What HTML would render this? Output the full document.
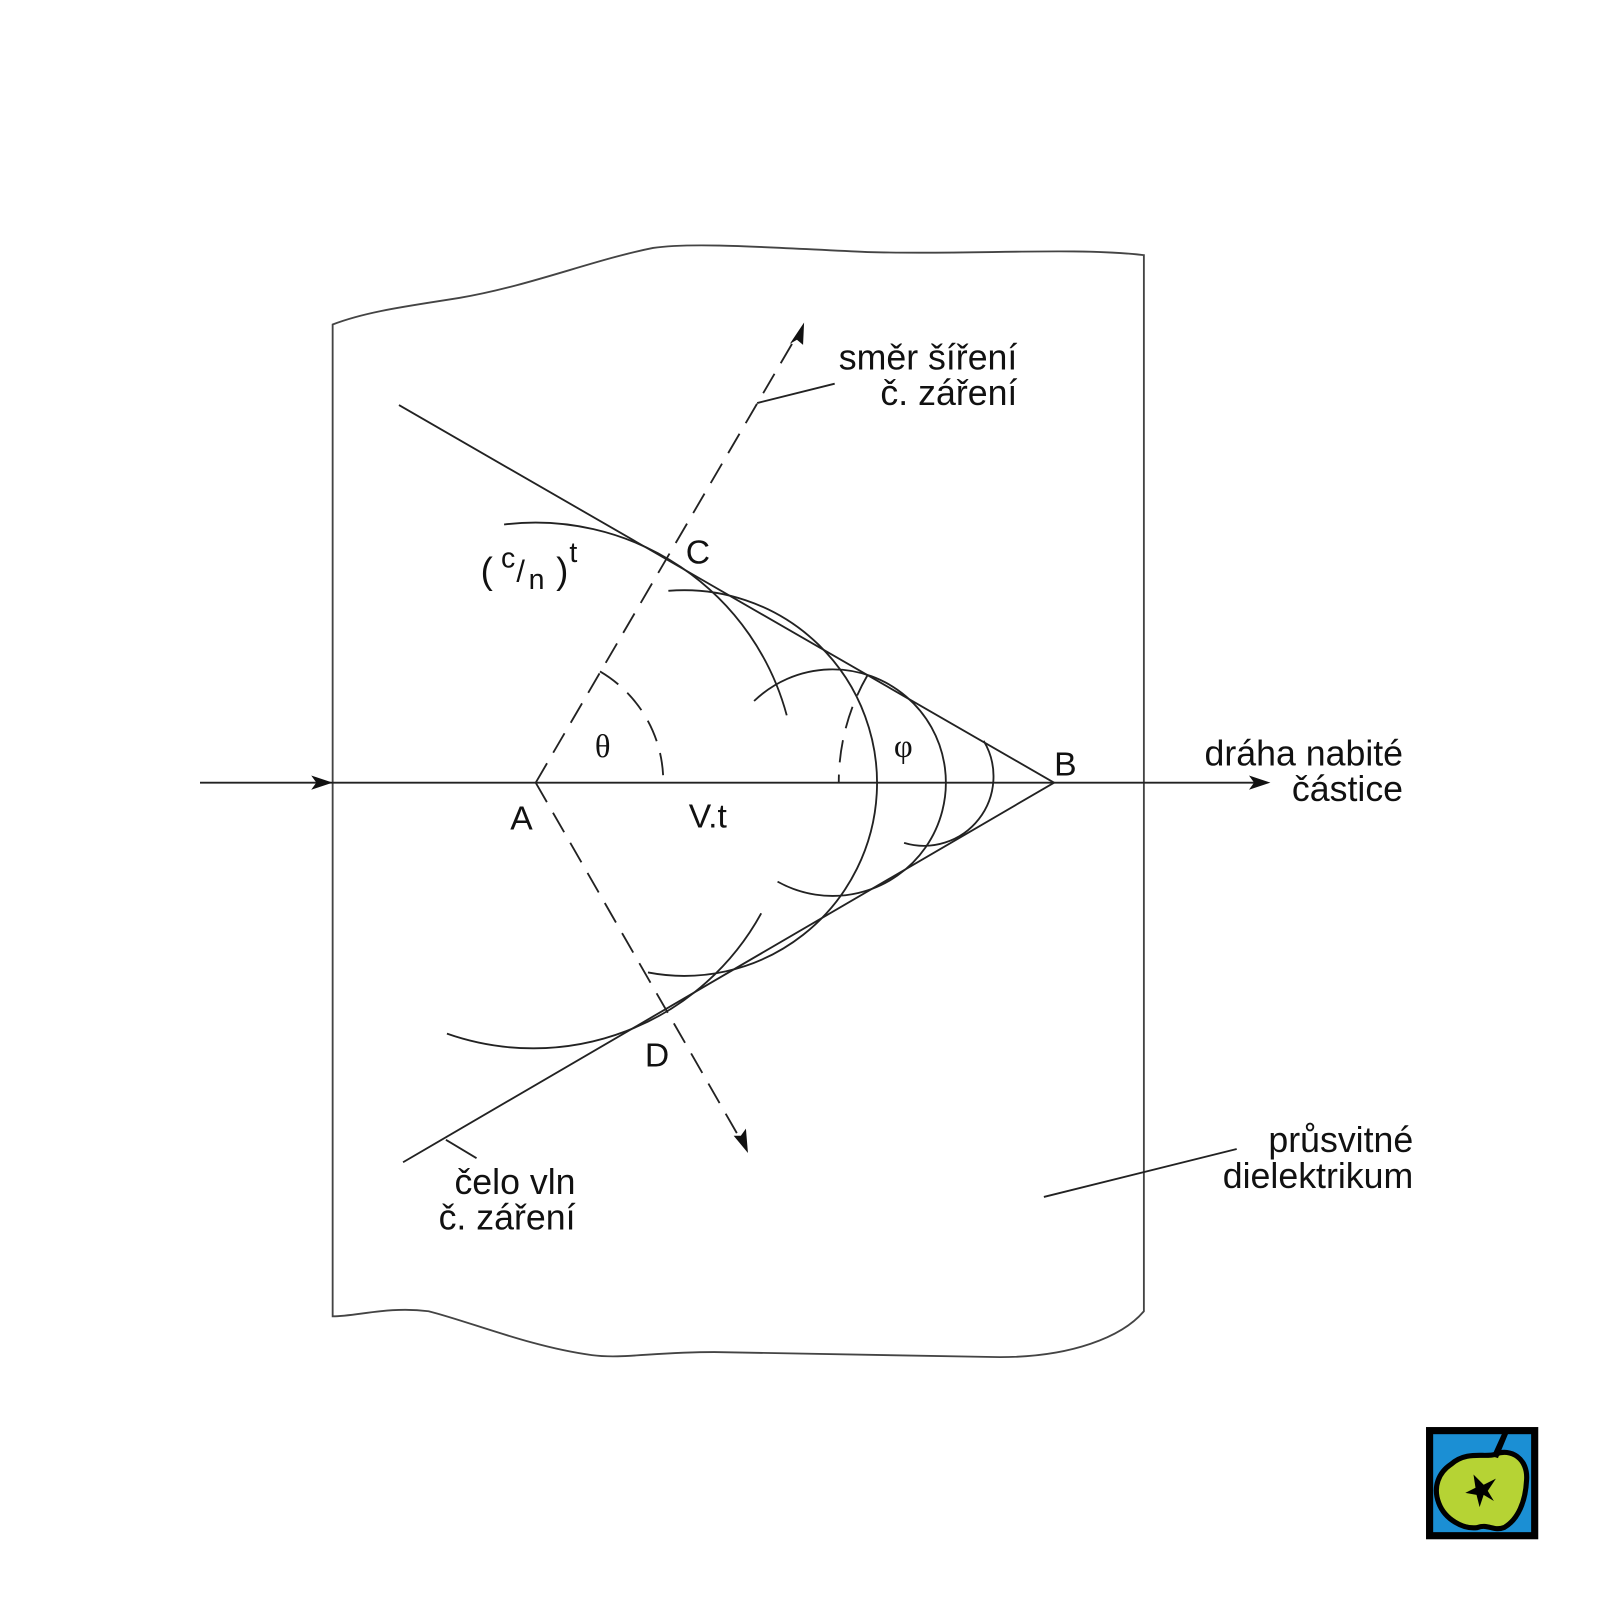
<!DOCTYPE html>
<html><head><meta charset="utf-8"><style>html,body{margin:0;padding:0;background:#fff}svg{display:block}</style></head>
<body>
<svg width="1600" height="1600" viewBox="0 0 1568 1568" xmlns="http://www.w3.org/2000/svg">
<rect width="1568" height="1568" fill="#fff"/>
<g fill="none" stroke="#222" stroke-width="1.8">
<path stroke="#444" d="M326,318 C360,305 400,300 450,292 C520,280 580,255 640,243 C680,237 760,243 850,247 C950,250 1050,242 1121,250 L1121,1285 C1100,1310 1050,1330 980,1330 L700,1325 C640,1325 610,1332 580,1328 C520,1320 460,1295 420,1285 C380,1280 350,1290 326,1290 Z"/>
<line x1="196" y1="767" x2="1235" y2="767"/>
<line x1="391" y1="397" x2="1033" y2="767"/>
<line x1="395" y1="1139" x2="1033" y2="767"/>
<path d="M494,514 A255,255 0 0 1 771,701"/>
<path d="M438,1013 A255,255 0 0 0 746,895"/>
<path d="M655,579 A189,189 0 1 1 635,953"/>
<path d="M739,687 A111,111 0 1 1 762,864"/>
<path d="M964,726 A68,68 0 0 1 886,826"/>
<g stroke-dasharray="22,12">
<line x1="525" y1="767" x2="782" y2="327"/>
<line x1="525" y1="767" x2="727" y2="1119"/>
<path d="M588,658 A125,125 0 0 1 650,767"/>
<path d="M850,662 A209,209 0 0 0 822,767"/>
</g>
<line x1="742" y1="395" x2="818" y2="376"/>
<line x1="437" y1="1117" x2="467" y2="1135"/>
<line x1="1023" y1="1173" x2="1212" y2="1126"/>
</g>
<g fill="#111">
<polygon points="326,767 305,760 310,767 305,774"/>
<polygon points="1245,767 1224,760 1229,767 1224,774"/>
<polygon points="788,316 787,338 781,333 774,337"/>
<polygon points="733,1130 719,1113 726,1113 731,1106"/>
</g>
<g font-family="Liberation Sans, sans-serif" font-size="35" fill="#111">
<text x="997" y="362" text-anchor="end">směr šíření</text>
<text x="997" y="397" text-anchor="end">č. záření</text>
<text x="1375" y="750" text-anchor="end">dráha nabité</text>
<text x="1375" y="785" text-anchor="end">částice</text>
<text x="1385" y="1129" text-anchor="end">průsvitné</text>
<text x="1385" y="1164" text-anchor="end">dielektrikum</text>
<text x="564" y="1170" text-anchor="end">čelo vln</text>
<text x="564" y="1205" text-anchor="end">č. záření</text>
<text x="672" y="552" font-size="33">C</text>
<text x="500" y="813" font-size="33">A</text>
<text x="675" y="811" font-size="33">V.t</text>
<text x="632" y="1045" font-size="33">D</text>
<text x="1033" y="760" font-size="33">B</text>
<text x="471" y="572" font-size="36">(</text>
<text x="491" y="556" font-size="28">c</text>
<text x="506" y="570" font-size="30">/</text>
<text x="518" y="577" font-size="28">n</text>
<text x="545" y="572" font-size="36">)</text>
<text x="558" y="551" font-size="28">t</text>
<text x="583" y="742" font-size="32" font-family="Liberation Serif, serif">θ</text>
<text x="876" y="742" font-size="32" font-family="Liberation Serif, serif">φ</text>
</g>
<g transform="translate(1398,1399)">
<rect x="3" y="3" width="103" height="103" fill="#1b8fd4" stroke="#000" stroke-width="7"/>
<path d="M24,36 C40,22 58,30 68,26 C82,20 100,30 98,52 C97,72 90,90 76,98 C66,102 60,94 50,98 C36,100 18,90 12,74 C6,58 12,44 24,36 Z" fill="#b6d334" stroke="#000" stroke-width="5"/>
<path d="M64,28 L74,6 L80,6 L70,30 Z" fill="#000"/>
<path d="M46,46 L56,56 L68,50 L60,62 L66,72 L56,66 L52,78 L49,66 L38,64 L48,59 Z" fill="#000"/>
</g>
</svg>
</body></html>
